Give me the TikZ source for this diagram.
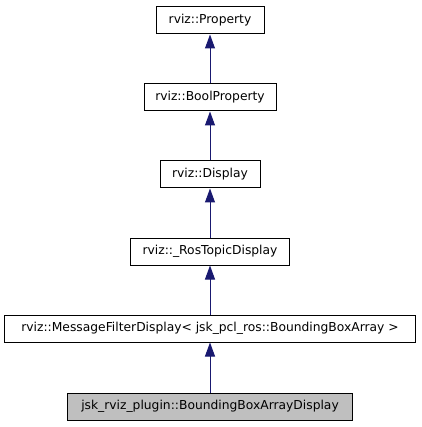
\documentclass[tikz,border=0pt]{standalone}
\usepackage{fontspec}
\setmainfont{DejaVu Sans}
\usetikzlibrary{arrows.meta}
\definecolor{midnightblue}{HTML}{191970}

\begin{document}
\begin{tikzpicture}[x=1pt, y=-1pt, line width=1pt,
  every node/.style={font=\fontsize{12.3}{14}\selectfont},
  cls/.style={draw=black, fill=white, minimum height=27pt, inner sep=0pt},
  inherit/.style={draw=midnightblue, -{Triangle[length=14pt,width=10pt]}, fill=midnightblue}]

\useasboundingbox (0,0) rectangle (421,427);

% the classes, top to bottom
\node[cls, minimum width=108pt] (prop) at (210, 20.5) {rviz::Property};
\node[cls, minimum width=132pt] (bool) at (210, 97.5) {rviz::BoolProperty};
\node[cls, minimum width=100pt] (disp) at (210, 174.5) {rviz::Display};
\node[cls, minimum width=159pt] (rostopic) at (210, 251.5) {rviz::\_RosTopicDisplay};
\node[cls, minimum width=411pt] (msgfilter) at (210, 328.5) {rviz::MessageFilterDisplay< jsk\_pcl\_ros::BoundingBoxArray >};
\node[cls, minimum width=285pt, fill=gray!50] (bbox) at (210, 406.5) {jsk\_rviz\_plugin::BoundingBoxArrayDisplay};

% draw the inheritance arrows
\draw[inherit] (bool) -- (prop);
\draw[inherit] (disp) -- (bool);
\draw[inherit] (rostopic) -- (disp);
\draw[inherit] (msgfilter) -- (rostopic);
\draw[inherit] (bbox) -- (msgfilter);

\end{tikzpicture}
\end{document}
